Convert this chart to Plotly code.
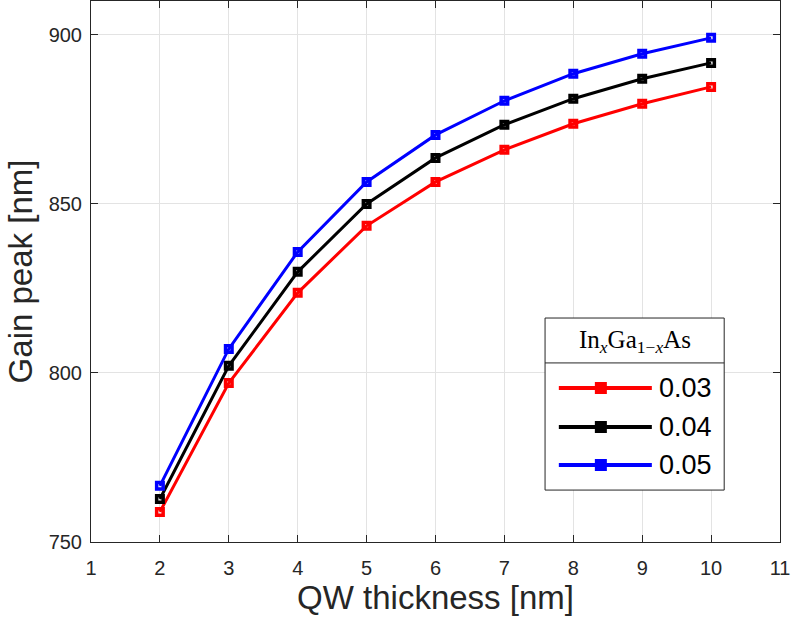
import plotly.graph_objects as go

# QW thickness (nm) and gain-peak wavelength (nm) for three In fractions
thickness = [2, 3, 4, 5, 6, 7, 8, 9, 10]
peak_x003 = [758.9, 797.0, 823.7, 843.5, 856.5, 866.0, 873.7, 879.6, 884.6]
peak_x004 = [762.7, 802.1, 829.9, 850.0, 863.6, 873.4, 881.1, 887.0, 891.7]
peak_x005 = [766.6, 807.1, 835.8, 856.5, 870.4, 880.5, 888.5, 894.4, 899.1]
labels = ["0.03", "0.04", "0.05"]
colors = ["#ff0000", "#000000", "#0000ff"]
series = [peak_x003, peak_x004, peak_x005]

x_ticks = list(range(1, 12))
y_ticks = [750, 800, 850, 900]

AX = "#262626"
GRID = "#e3e3e3"

fig = go.Figure()
for ys, c, name in zip(series, colors, labels):
    fig.add_trace(go.Scatter(
        x=thickness, y=ys, name=name, mode="lines+markers",
        line=dict(color=c, width=3),
        marker=dict(symbol="square-open", size=6.5, color=c, line=dict(color=c, width=3.5)),
        showlegend=False,
    ))

axis_common = dict(
    showline=True, linecolor=AX, linewidth=1, mirror="ticks",
    ticks="inside", ticklen=7, tickcolor=AX, tickwidth=1,
    showgrid=True, gridcolor=GRID, gridwidth=1, zeroline=False,
    tickfont=dict(family="Liberation Sans, Arial", size=20, color=AX),
    title_font=dict(family="Liberation Sans, Arial", size=33, color=AX),
)

fig.update_xaxes(range=[1, 11], tickvals=x_ticks, title_text="QW thickness [nm]",
                 ticklabelstandoff=8, title_standoff=4, **axis_common)
fig.update_yaxes(range=[750, 910], tickvals=y_ticks, title_text="Gain peak [nm]",
                 ticklabelstandoff=4, title_standoff=6, **axis_common)

# Legend box drawn in paper coordinates
lx0, lx1 = 0.659, 0.919
ly0, ly1 = 0.096, 0.414
ysep = 0.331
shapes = [
    dict(type="rect", xref="paper", yref="paper", x0=lx0, x1=lx1, y0=ly0, y1=ly1,
         line=dict(color=AX, width=1), fillcolor="white", layer="above"),
    dict(type="line", xref="paper", yref="paper", x0=lx0, x1=lx1, y0=ysep, y1=ysep,
         line=dict(color=AX, width=1), layer="above"),
]
annotations = [
    dict(xref="paper", yref="paper", x=(lx0 + lx1) / 2, y=0.3715,
         text="In<i><sub>x</sub></i>Ga<sub>1\u2212<i>x</i></sub>As", showarrow=False,
         font=dict(family="Liberation Serif, Times New Roman, serif", size=25, color="black"),
         xanchor="center", yanchor="middle"),
]
entry_y = [0.2847, 0.2126, 0.1423]
W, H = 791, 620
ml, mr, mt, mb = 91, 11, 1, 78
pw, ph = W - ml - mr, H - mt - mb
sx = 4.5 / pw
sy = 4.5 / ph
for ey, c, name in zip(entry_y, colors, labels):
    shapes.append(dict(type="line", xref="paper", yref="paper", x0=0.679, x1=0.814,
                       y0=ey, y1=ey, line=dict(color=c, width=4), layer="above"))
    shapes.append(dict(type="rect", xref="paper", yref="paper",
                       x0=0.740 - sx, x1=0.740 + sx, y0=ey - sy, y1=ey + sy,
                       line=dict(color=c, width=3), fillcolor=c, layer="above"))
    annotations.append(dict(xref="paper", yref="paper", x=0.822, y=ey, text=name,
                            showarrow=False, xanchor="left", yanchor="middle",
                            font=dict(family="Liberation Sans, Arial", size=27, color="black")))

fig.update_layout(
    width=W, height=H,
    margin=dict(l=ml, r=mr, t=mt, b=mb, autoexpand=False),
    plot_bgcolor="white", paper_bgcolor="white",
    shapes=shapes, annotations=annotations,
)

fig.write_html("out.html")
